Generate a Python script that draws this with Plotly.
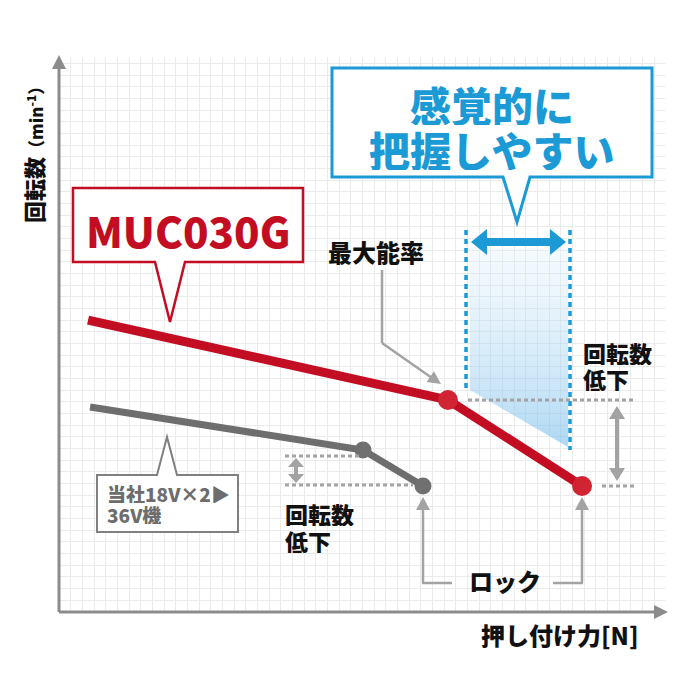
import plotly.graph_objects as go

# ---------------- data (units: grid cells of the chart) ----------------
red_force = [2.49, 33.33, 44.82]      # MUC030G
red_rpm = [25.02, 18.17, 10.80]
gray_force = [2.66, 26.05, 31.19]     # 当社18V×2▶36V機
gray_rpm = [17.57, 13.88, 10.80]

series_red_name = "MUC030G"
series_gray_lines = ["当社18V×2▶", "36V機"]
x_title = "押し付け力[N]"
y_title_main = "回転数"
y_title_unit = "（min<sup>-1</sup>）"
label_maxeff = "最大能率"
label_drop_lines = ["回転数", "低下"]
label_lock = "ロック"
blue_lines = ["感覚的に", "把握しやすい"]

# ---------------- styling / geometry helpers ----------------
FONT = "Noto Sans CJK JP"
RED = "#c30d23"
RED_M = "#d02433"
GRAY = "#6e6e6e"
LGRAY = "#a3a3a3"
BLUE = "#1b9ad6"
AX = "#8c8c8c"

L, T, R, B = 59, 57, 665, 612      # plot area in pixels
U = 11.67                           # pixels per grid cell
W_PA, H_PA = R - L, B - T


def P(px, py):
    return ((px - L) / W_PA, (B - py) / H_PA)


def D(px, py):
    return ((px - L) / U, (B - py) / U)


def path(points, close=True):
    s = ""
    for i, (px, py) in enumerate(points):
        x, y = P(px, py)
        s += ("M" if i == 0 else "L") + f"{x:.5f},{y:.5f} "
    return s + ("Z" if close else "")


def tri(tx, ty, dx, dy, Lh, Wh):
    n = (dx * dx + dy * dy) ** 0.5
    dx, dy = dx / n, dy / n
    bx, by = tx - Lh * dx, ty - Lh * dy
    nx, ny = -dy, dx
    return path([(tx, ty), (bx + Wh * nx, by + Wh * ny), (bx - Wh * nx, by - Wh * ny)])


shapes = []


def line(x0, y0, x1, y1, color, width, dash="solid"):
    a = P(x0, y0)
    b = P(x1, y1)
    shapes.append(dict(type="line", xref="paper", yref="paper", x0=a[0], y0=a[1], x1=b[0], y1=b[1],
                       line=dict(color=color, width=width, dash=dash), layer="above"))


def poly(p, fill, lc=None, lw=0):
    shapes.append(dict(type="path", xref="paper", yref="paper", path=p, fillcolor=fill,
                       line=dict(color=lc if lc else fill, width=lw), layer="above"))


fig = go.Figure()

# gradient shaded zone
gz = [D(470, 248), D(568, 248), D(568, 447), D(470, 390), D(470, 248)]
fig.add_trace(go.Scatter(x=[p[0] for p in gz], y=[p[1] for p in gz], mode="lines", fill="toself",
                         line=dict(width=0), hoverinfo="skip", showlegend=False,
                         fillgradient=dict(type="vertical",
                                           colorscale=[[0, "rgba(120,190,235,0.60)"],
                                                       [1, "rgba(215,236,250,0.25)"]])))

# series
fig.add_trace(go.Scatter(x=gray_force, y=gray_rpm, mode="lines", line=dict(color=GRAY, width=7),
                         showlegend=False, hoverinfo="skip"))
fig.add_trace(go.Scatter(x=gray_force[1:], y=gray_rpm[1:], mode="markers",
                         marker=dict(color="#707070", size=17), showlegend=False, hoverinfo="skip"))
fig.add_trace(go.Scatter(x=red_force, y=red_rpm, mode="lines", line=dict(color=RED, width=9),
                         showlegend=False, hoverinfo="skip"))
fig.add_trace(go.Scatter(x=red_force[1:], y=red_rpm[1:], mode="markers",
                         marker=dict(color=RED_M, size=20), showlegend=False, hoverinfo="skip"))

# axes with arrowheads
line(L, B, L, 68, AX, 3)
poly(tri(L, 55, 0, -1, 14, 7), AX)
line(L, B, 655, B, AX, 3)
poly(tri(668, B, 1, 0, 14, 7), AX)

# callouts
poly(path([(73, 188), (303, 188), (303, 262), (185, 262), (170, 322), (155, 262), (73, 262)]),
     "white", RED, 2.5)
poly(path([(332, 68), (652, 68), (652, 177), (530, 177), (517, 222), (503, 177), (332, 177)]),
     "white", BLUE, 3)
poly(path([(97, 475), (157, 475), (167, 437), (177, 475), (238, 475), (238, 532), (97, 532)]),
     "white", "#808080", 2)

# blue double arrow + dotted verticals
poly(path([(471, 242), (487, 229), (487, 238), (550, 238), (550, 229), (566, 242),
           (550, 255), (550, 246), (487, 246), (487, 255)]), BLUE)
line(466, 230, 466, 388, BLUE, 3.5, "5px,4px")
line(570, 230, 570, 450, BLUE, 3.5, "5px,4px")

# gray dotted reference lines
DOT = "4px,3px"
line(468, 400, 636, 400, LGRAY, 3, DOT)
line(602, 486, 636, 486, LGRAY, 3, DOT)
line(285, 456, 361, 456, LGRAY, 3, DOT)
line(285, 485, 413, 485, LGRAY, 3, DOT)

# gray double arrows
line(617, 418, 617, 470, LGRAY, 4)
poly(tri(617, 406, 0, -1, 13, 8), LGRAY)
poly(tri(617, 481, 0, 1, 13, 8), LGRAY)
line(296, 466, 296, 475, LGRAY, 4)
poly(tri(296, 458, 0, -1, 9, 8), LGRAY)
poly(tri(296, 483, 0, 1, 9, 8), LGRAY)

# leader lines
line(382, 270, 382, 343, LGRAY, 2.5)
line(382, 343, 432, 378, LGRAY, 2.5)
poly(tri(441, 384, 58, 40, 13, 6.5), LGRAY)
line(423, 510, 423, 583, LGRAY, 2.5)
line(422, 583, 452, 583, LGRAY, 2.5)
poly(tri(423, 497, 0, -1, 13, 7), LGRAY)
line(582, 510, 582, 583, LGRAY, 2.5)
line(553, 583, 583, 583, LGRAY, 2.5)
poly(tri(582, 497, 0, -1, 13, 7), LGRAY)

# text annotations
ann = []


def text(px, py, s, size, color="#111111", xanchor="center", yanchor="middle", align="center",
         angle=0, family=FONT, weight=900, height=None):
    x, y = P(px, py)
    a = dict(x=x, y=y, xref="paper", yref="paper", text=s, showarrow=False,
             xanchor=xanchor, yanchor=yanchor, align=align, textangle=angle, borderpad=0,
             font=dict(family=family, size=size, color=color, weight=weight))
    if height:
        a["height"] = height
    ann.append(a)


text(188, 229, series_red_name, 42, RED)
text(492, 103, blue_lines[0], 41, BLUE, height=43)
text(492, 148, blue_lines[1], 41, BLUE, height=43)
text(327, 251, label_maxeff, 24, xanchor="left")
text(582, 352, label_drop_lines[0], 23, xanchor="left", height=25)
text(582, 378, label_drop_lines[1], 23, xanchor="left", height=25)
text(284, 513, label_drop_lines[0], 23, xanchor="left", height=25)
text(284, 540, label_drop_lines[1], 23, xanchor="left", height=25)
text(505, 580, label_lock, 24)
text(560, 634, x_title, 24)
text(106, 493, series_gray_lines[0], 19, "#6d6d6d", xanchor="left", height=20)
text(106, 514, series_gray_lines[1], 19, "#6d6d6d", xanchor="left", height=20)
text(33, 151, f"{y_title_main}<span style='font-size:17px'>{y_title_unit}</span>", 22, angle=-90)

fig.update_layout(
    width=700, height=700, autosize=False,
    margin=dict(l=L, r=700 - R, t=T, b=700 - B, pad=0),
    paper_bgcolor="white", plot_bgcolor="white",
    xaxis=dict(range=[0, W_PA / U], dtick=1, tick0=0, showgrid=True, gridcolor="#ebebeb", gridwidth=1,
               zeroline=False, showticklabels=False, showline=False, ticks="", fixedrange=True),
    yaxis=dict(range=[0, H_PA / U], dtick=1, tick0=0, showgrid=True, gridcolor="#ebebeb", gridwidth=1,
               zeroline=False, showticklabels=False, showline=False, ticks="", fixedrange=True),
    shapes=shapes, annotations=ann, showlegend=False,
    font=dict(family=FONT),
)

fig.write_html("out.html", config={"displayModeBar": False},
               post_script="document.body.style.margin='0';")
